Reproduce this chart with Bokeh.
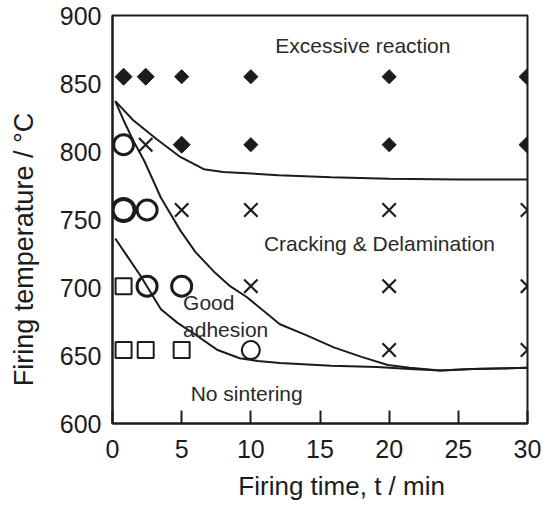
import math
from bokeh.plotting import figure
from bokeh.models import FixedTicker, Label, Range1d
from bokeh.embed import file_html
from bokeh.resources import INLINE

# ---------------- data ----------------
# Excessive reaction (filled diamonds); n = apparent repeated samples
excess_t = [0.8, 2.4, 5, 10, 20, 30, 5, 10, 20, 30]
excess_T = [855, 855, 855, 855, 855, 855, 805, 805, 805, 805]
excess_n = [2, 2, 1, 1, 1, 2, 2, 1, 1, 2]

# Good adhesion (open circles)
good_t = [0.8, 0.8, 2.5, 2.5, 5, 10]
good_T = [805, 757, 757, 701, 701, 654]
good_n = [2, 3, 2, 2, 2, 1]

# Cracking & delamination (crosses)
crack_t = [2.4, 5, 10, 20, 30, 10, 20, 30, 20, 30]
crack_T = [805, 757, 757, 757, 757, 701, 701, 701, 654, 654]

# No sintering (open squares)
nosint_t = [0.8, 0.8, 2.4, 5]
nosint_T = [701, 654, 654, 654]

# boundary curves
upper_t = [0.2, 1.5, 3.2, 4.9, 6.6, 8.0, 9.7, 12.0, 15.8, 20.0, 25.0, 30.0]
upper_T = [837, 823, 809, 796, 787, 785, 784, 782.5, 781, 780, 779.5, 779.5]

middle_t = [0.2, 0.8, 1.5, 2.3, 3.5, 4.9, 6.0, 7.3, 8.5, 9.7, 12.1, 14.0, 16.0, 18.0, 19.9, 21.5, 23.7, 26.0, 30.0]
middle_T = [837, 823, 808, 793, 766, 742, 726, 712, 701, 693, 673, 665, 656, 649, 643, 641, 639, 640, 641]

lower_t = [0.2, 1.0, 2.0, 3.5, 4.7, 5.9, 7.6, 9.2, 10.5, 12.1, 15.8, 19.1, 21.5, 23.7, 26.0, 30.0]
lower_T = [736, 724, 709, 684, 674, 666, 654, 648, 646, 644.5, 642.5, 641.5, 640, 639, 640, 641]

x_ticks = [0, 5, 10, 15, 20, 25, 30]
y_ticks = [600, 650, 700, 750, 800, 850, 900]

# ---------------- figure ----------------
INK = "#1c1c1c"
FONT = "Liberation Sans"
NBSP = "\u00a0"

p = figure(width=545, height=508, output_backend="svg", toolbar_location=None,
           x_range=Range1d(0, 30), y_range=Range1d(600, 900),
           min_border_left=112, min_border_right=18, min_border_top=15, min_border_bottom=85)
p.background_fill_color = "white"
p.border_fill_color = "white"
p.grid.visible = False
p.outline_line_color = INK
p.outline_line_width = 2

xa = p.xaxis[0]
xa.ticker = FixedTicker(ticks=x_ticks)
xa.major_tick_in = 13
xa.major_tick_out = 0
xa.minor_tick_line_color = None
xa.major_tick_line_width = 2
xa.major_tick_line_color = INK
xa.axis_line_color = INK
xa.axis_line_width = 2
xa.major_label_text_font = FONT
xa.major_label_text_font_size = "25px"
xa.major_label_text_color = INK
xa.major_label_standoff = 16
# leading no-break spaces move the visible title right, as in the reference
xa.axis_label = NBSP * 6 + "Firing time, t / min"
xa.axis_label_text_font = FONT
xa.axis_label_text_font_style = "normal"
xa.axis_label_text_font_size = "26px"
xa.axis_label_text_color = INK
xa.axis_label_standoff = 10

ya = p.yaxis[0]
ya.ticker = FixedTicker(ticks=y_ticks)
ya.major_tick_in = 0
ya.major_tick_out = 0
ya.minor_tick_line_color = None
ya.axis_line_color = INK
ya.axis_line_width = 2
ya.major_label_text_font = FONT
ya.major_label_text_font_size = "25px"
ya.major_label_text_color = INK
ya.major_label_standoff = 11
# trailing no-break spaces move the visible title down, as in the reference
ya.axis_label = "Firing temperature / °C" + NBSP * 8
ya.axis_label_text_font = FONT
ya.axis_label_text_font_style = "normal"
ya.axis_label_text_font_size = "27px"
ya.axis_label_text_color = INK
ya.axis_label_standoff = 18

# curves
for tt, TT in ((upper_t, upper_T), (middle_t, middle_T), (lower_t, lower_T)):
    p.line(tt, TT, line_color=INK, line_width=2)

# markers
p.scatter(excess_t, excess_T, marker="square", angle=math.pi / 4,
          size=[8 + 2 * n for n in excess_n], fill_color=INK, line_color=INK, line_width=1)
p.scatter(good_t, good_T, marker="circle", size=[16 + 2 * n for n in good_n],
          fill_color=None, line_color=INK, line_width=[1.2 + 0.9 * n for n in good_n])
p.scatter(crack_t, crack_T, marker="x", size=19, line_color=INK, line_width=2.2)
p.scatter(nosint_t, nosint_T, marker="square", size=16, fill_color=None, line_color=INK, line_width=2)

# region labels
def lab(x, y, text, align="center"):
    p.add_layout(Label(x=x, y=y, text=text, text_font=FONT, text_font_size="21px",
                       text_color="#2a2a2a", text_align=align, text_baseline="middle"))

lab(18.1, 878, "Excessive reaction")
lab(19.3, 732, "Cracking & Delamination")
lab(5.1, 689, "Good", "left")
lab(5.1, 669, "adhesion", "left")
lab(9.7, 622, "No sintering")

open("out.html", "w").write(file_html(p, INLINE))
